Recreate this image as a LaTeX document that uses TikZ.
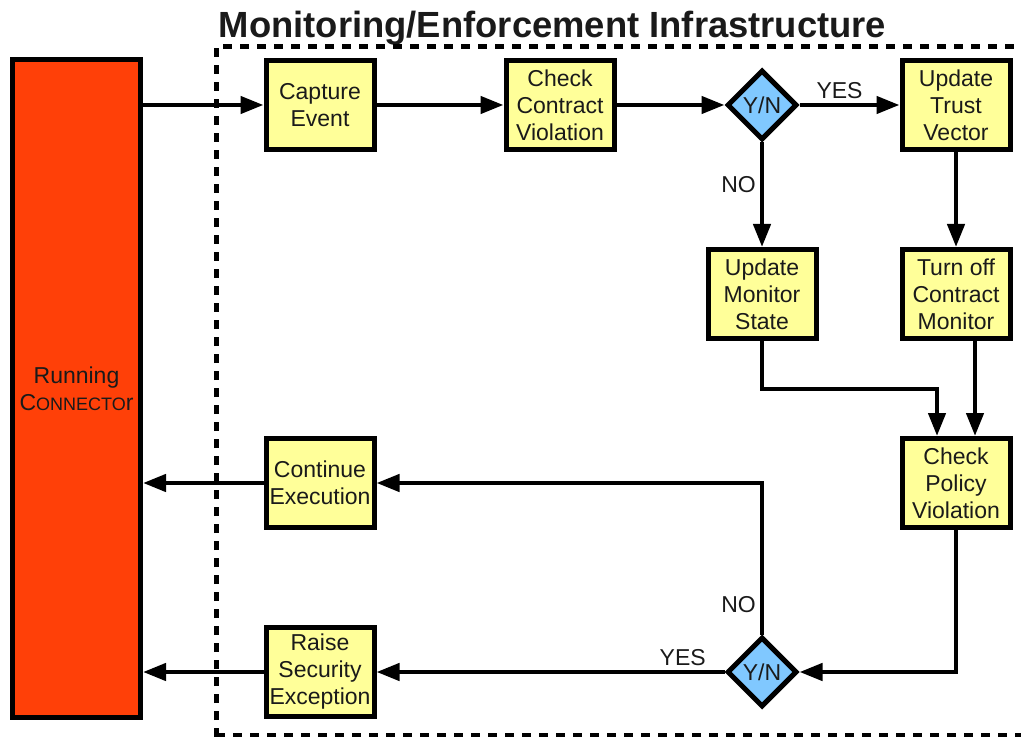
\documentclass[tikz,border=0pt]{standalone}
\usepackage{fontspec}
\setmainfont{Liberation Sans}
\usepackage{xcolor}
\usetikzlibrary{arrows.meta, positioning, shapes.geometric}

\definecolor{runred}{HTML}{FF4008}
\definecolor{boxyellow}{HTML}{FFFF99}
\definecolor{diablue}{HTML}{80C8FF}
\definecolor{inkgray}{HTML}{1A1A1A}

\begin{document}
\begin{tikzpicture}[
  x=0.5pt, y=-0.5pt,
  node distance=47.5pt and 63.5pt,
  box/.style={draw, line width=2.5pt, fill=boxyellow, minimum width=54pt,
              minimum height=44.5pt, inner sep=1pt, align=center,
              font=\fontsize{11.5}{13.5}\selectfont, text=inkgray},
  runbox/.style={draw, line width=2.5pt, fill=runred, minimum width=64pt,
                 minimum height=328.5pt, align=center,
                 font=\fontsize{11.5}{13.5}\selectfont, text=inkgray},
  dia/.style={diamond, draw, line width=2.5pt, fill=diablue, aspect=1,
              minimum width=35pt, minimum height=35pt, inner sep=0pt,
              font=\fontsize{11.5}{13.5}\selectfont, text=inkgray},
  arr/.style={-{Triangle[length=11.5pt, width=8.5pt]}, line width=2.2pt},
  lbl/.style={font=\fontsize{11.5}{13.5}\selectfont, text=inkgray, inner sep=2pt},
  dashline/.style={line width=2.5pt, dash pattern=on 4.5pt off 4pt},
]
  \useasboundingbox (0,0) rectangle (1021,737);

  % title and infrastructure frame
  \node[anchor=base, font=\bfseries\fontsize{18.2}{21}\selectfont, text=inkgray]
    (ttl) at (552.5,38) {Monitoring/Enforcement Infrastructure};
  \draw[dashline] (216,737) -- (216,47) -- (1021,47);
  \draw[dashline] (216,735) -- (1021,735);

  % running connector
  \node[runbox] (run) at (76.5,388.5)
    {Running\\C{\fontsize{9}{10}\selectfont ONNECTO}r};

  % top row
  \node[box] (cap) at (320,105) {Capture\\Event};
  \node[box, right=of cap] (ccv) {Check\\Contract\\Violation};
  \node[dia, right=54pt of ccv] (yn1) {Y/N};
  \node[box, right=50pt of yn1] (utv) {Update\\Trust\\Vector};

  % right column
  \node[box, below=of utv] (tcm) {Turn off\\Contract\\Monitor};
  \node[box, below=of tcm] (cpv) {Check\\Policy\\Violation};
  \node[box] (ums) at (yn1 |- tcm) {Update\\Monitor\\State};

  % left column
  \node[box] (ce) at (cap |- cpv) {Continue\\Execution};
  \node[box, below=of ce] (rse) {Raise\\Security\\Exception};
  \node[dia] (yn2) at (yn1 |- rse) {Y/N};

  % connectors
  \draw[arr] (run.east |- cap) -- (cap);
  \draw[arr] (cap) -- (ccv);
  \draw[arr] (ccv) -- (yn1);
  \draw[arr] (yn1) -- node[lbl, above, pos=0.4] (yes1) {YES} (utv);
  \draw[arr] (yn1) -- node[lbl, left, pos=0.4] (no1) {NO} (ums);
  \draw[arr] (utv) -- (tcm);
  \draw[arr] (ums.south) -- ++(0,48) -| ([xshift=-9.5pt]cpv.north);
  \draw[arr] ([xshift=9.5pt]tcm.south) -- ([xshift=9.5pt]cpv.north);
  \draw[arr] (cpv.south) |- (yn2.east);
  \draw[arr] (yn2.north) |- node[lbl, left, pos=0.1] (no2) {NO} (ce.east);
  \draw[arr] (yn2.west) -- node[lbl, above, pos=0.12] (yes2) {YES} (rse.east);
  \draw[arr] (ce.west) -- (run.east |- ce);
  \draw[arr] (rse.west) -- (run.east |- rse);
\end{tikzpicture}
\end{document}
